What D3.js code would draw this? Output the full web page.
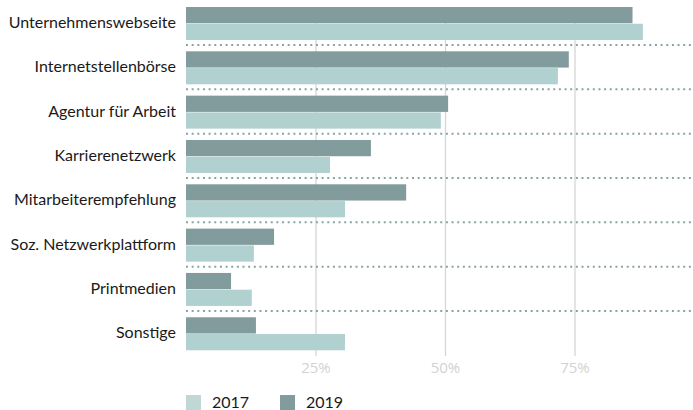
<!DOCTYPE html>
<html>
<head>
<meta charset="utf-8">
<script src="https://cdn.jsdelivr.net/npm/d3@7"></script>
<style>
  body { margin: 0; background: #fff; }
  svg { display: block; font-family: Lato, "Open Sans", sans-serif; }
</style>
</head>
<body>
<div id="chart"></div>
<script>
var categories = ["Unternehmenswebseite", "Internetstellenbörse", "Agentur für Arbeit",
    "Karrierenetzwerk", "Mitarbeiterempfehlung", "Soz. Netzwerkplattform", "Printmedien", "Sonstige"];
var series = ["2019", "2017"];
var values2019 = [86.2, 73.9, 50.6, 35.7, 42.5, 17.0, 8.7, 13.5];
var values2017 = [88.2, 71.8, 49.2, 27.8, 30.7, 13.1, 12.7, 30.7];
var ticks = [25, 50, 75];
var legendItems = ["2017", "2019"];

var colors = {"2017": "#b1d1d0", "2019": "#829b9d"};

var width = 693, height = 410;

var svg = d3.select("#chart").append("svg")
    .attr("width", width)
    .attr("height", height);

var x = d3.scaleLinear().domain([0, 100]).range([186, 704]);
var y = d3.scaleBand().domain(categories).range([0.7, 355.3]).paddingInner(0).paddingOuter(0);
var inner = d3.scaleBand().domain(series).range([6.3, 39.3]).paddingInner(0.03);

// vertical grid lines
svg.append("g")
    .selectAll("line")
    .data(ticks)
    .enter()
    .append("line")
        .attr("x1", d => x(d) + 0.5)
        .attr("x2", d => x(d) + 0.5)
        .attr("y1", 23)
        .attr("y2", 356)
        .style("stroke", "#d6d6d6")
        .style("stroke-width", "1.3px");

// dotted separators
svg.append("g")
    .selectAll("line")
    .data(categories.slice(0, -1))
    .enter()
    .append("line")
        .attr("x1", 186)
        .attr("x2", width)
        .attr("y1", d => y(d) + y.bandwidth())
        .attr("y2", d => y(d) + y.bandwidth())
        .style("stroke", "#8aa3a5")
        .style("stroke-width", "2px")
        .style("stroke-dasharray", "2,3.65");

var rows = categories.map(function(c, i){
    return {cat: c, "2019": values2019[i], "2017": values2017[i]};
});

var groups = svg.append("g")
    .selectAll("g")
    .data(rows)
    .enter()
    .append("g")
        .attr("transform", d => "translate(0," + y(d.cat) + ")");

groups.selectAll("rect")
    .data(d => series.map(s => ({s: s, v: d[s]})))
    .enter()
    .append("rect")
        .attr("x", x(0))
        .attr("y", d => inner(d.s))
        .attr("width", d => x(d.v) - x(0))
        .attr("height", inner.bandwidth())
        .style("fill", d => colors[d.s]);

// category labels
var yAxis = svg.append("g")
    .attr("transform", "translate(186,0)")
    .call(d3.axisLeft(y).tickSize(0).tickPadding(10));
yAxis.select(".domain").remove();
yAxis.selectAll("text")
    .attr("dy", "0.32em")
    .style("font-family", "Lato, 'Open Sans', sans-serif")
    .style("font-size", "16px")
    .style("fill", "#1a1a1a");

// x axis labels
var xAxis = svg.append("g")
    .attr("transform", "translate(0,356)")
    .call(d3.axisBottom(x).tickValues(ticks).tickSize(0).tickPadding(6)
        .tickFormat(d => d + "%"));
xAxis.select(".domain").remove();
xAxis.selectAll("text")
    .style("font-family", "'Open Sans', sans-serif")
    .style("font-size", "15px")
    .style("fill", "#d2d2d2");

// legend
var legend = svg.append("g")
    .selectAll("g")
    .data(legendItems)
    .enter()
    .append("g")
        .attr("transform", (d, i) => "translate(" + (186 + i * 94) + ",395)");

legend.append("rect")
    .attr("width", 15)
    .attr("height", 15)
    .style("fill", d => d == "2017" ? "#bfd8d6" : colors[d]);

legend.append("text")
    .attr("x", 26)
    .attr("y", 12.5)
    .text(d => d)
    .style("font-size", "16px")
    .style("fill", "#1a1a1a");
</script>
</body>
</html>
